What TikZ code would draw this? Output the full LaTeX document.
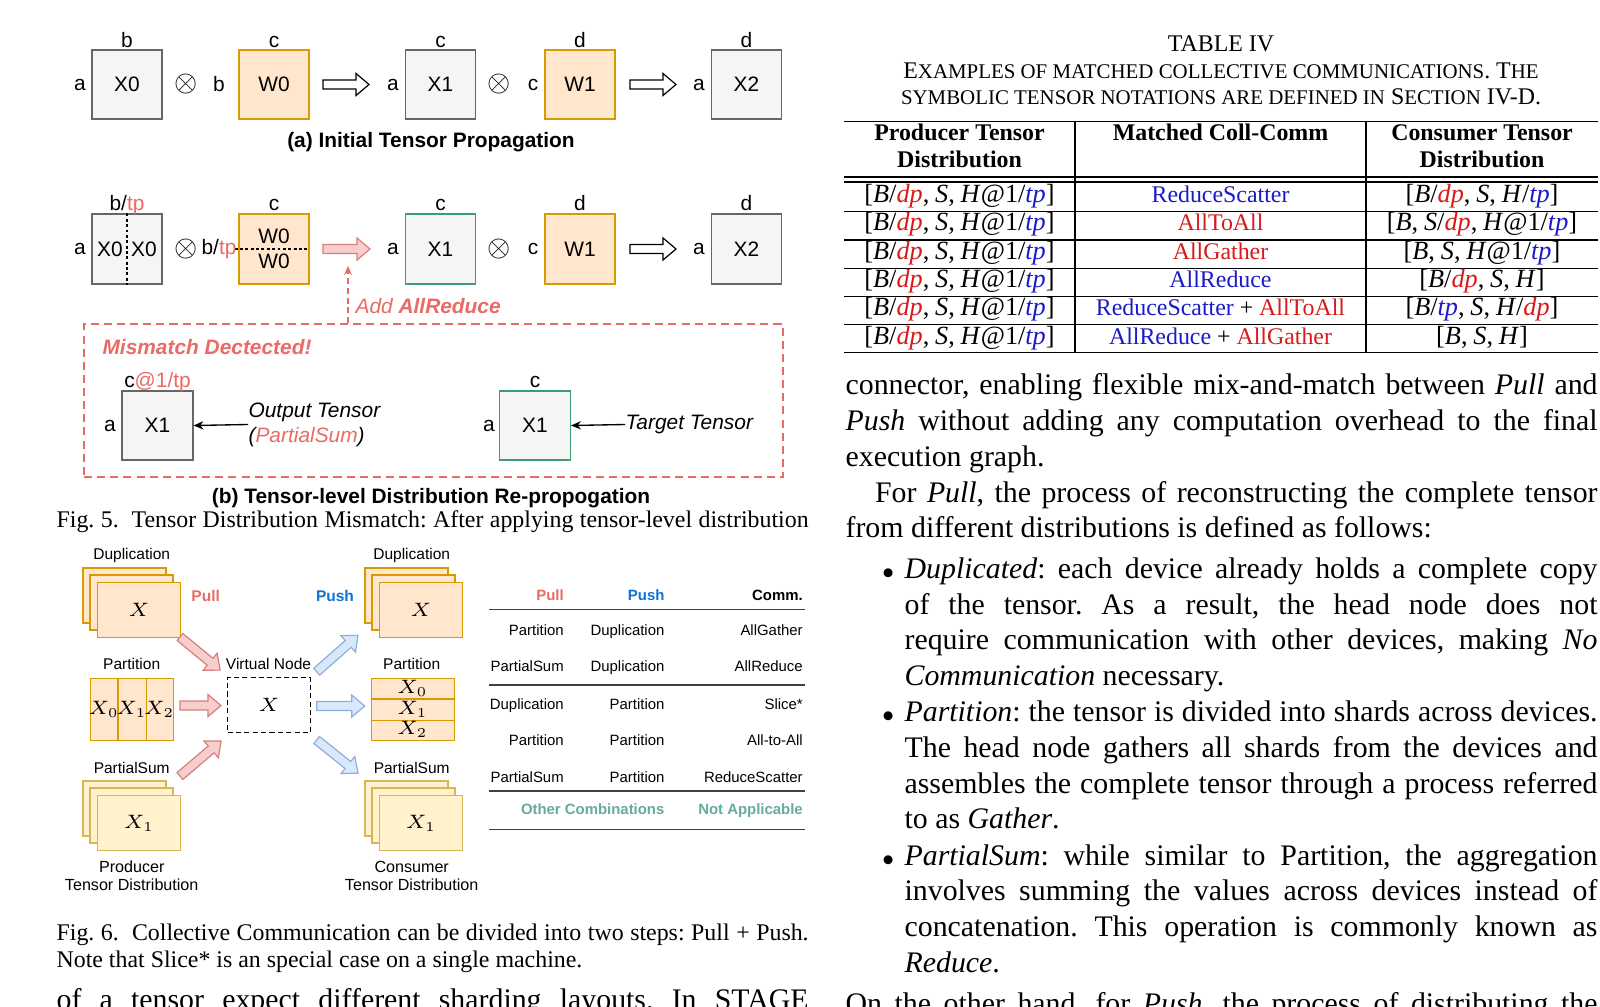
\RequirePackage{fix-cm}
\documentclass[tikz,border=0pt]{standalone}
\usepackage{fontspec}
\setmainfont{Liberation Serif}
\setsansfont{Liberation Sans}
\usetikzlibrary{arrows.meta, positioning, calc}
\definecolor{boxgray}{HTML}{666666}
\definecolor{gfill}{HTML}{F5F5F5}
\definecolor{orstroke}{HTML}{D79B00}
\definecolor{orfill}{HTML}{FFE6CC}
\definecolor{ylstroke}{HTML}{D6B656}
\definecolor{ylfill}{HTML}{FFF2CC}
\definecolor{okgreen}{HTML}{3A9E70}
\definecolor{softred}{HTML}{EA6B66}
\definecolor{pinkfill}{HTML}{F8CECC}
\definecolor{pinkstroke}{HTML}{D4807C}
\definecolor{bluefill}{HTML}{DAE8FC}
\definecolor{bluestroke}{HTML}{8FAEDB}
\definecolor{pushblue}{HTML}{0B72D6}
\definecolor{tealtxt}{HTML}{67AB9F}
\definecolor{tred}{HTML}{D91A1A}
\definecolor{tblue}{HTML}{1A1AC8}
\newcommand{\pxu}{0.3351pt}
\newcommand{\jl}[2]{\hbox to #1{#2}}
\newcommand{\smc}[1]{{\fontsize{7}{9.5}\selectfont #1}}
\newcommand{\dpr}{\textcolor{tred}{\textit{dp}}}
\newcommand{\tpb}{\textcolor{tblue}{\textit{tp}}}
\frenchspacing

\begin{document}
\begin{tikzpicture}[x=\pxu, y=-\pxu, every node/.style={inner sep=0pt},
    lbl/.style={font=\sffamily\fontsize{7}{8.4}\selectfont},
    subcap/.style={anchor=base, font=\sffamily\bfseries\fontsize{7}{8.4}\selectfont},
    tbox/.style={draw=boxgray, fill=gfill, line width=0.4pt, minimum width=70*\pxu, minimum height=69*\pxu, font=\sffamily\fontsize{7}{8.4}\selectfont},
    wbox/.style={tbox, draw=orstroke, fill=orfill},
    gbox/.style={tbox, draw=okgreen},
    otimes/.style={font=\fontsize{10}{10}\selectfont},
    sm/.style={anchor=base, font=\sffamily\fontsize{5.2}{6.2}\selectfont},
    smb/.style={anchor=base, font=\sffamily\bfseries\fontsize{5.2}{6.2}\selectfont},
    tcell/.style={anchor=base east, font=\sffamily\fontsize{5}{6}\selectfont},
    card/.style={draw=orstroke, fill=orfill, line width=0.35pt},
    pcard/.style={draw=ylstroke, fill=ylfill, line width=0.35pt},
    mathx/.style={font=\fontsize{6.5}{7}\selectfont},
    body/.style={anchor=base west, font=\fontsize{10}{12}\selectfont},
    capt/.style={anchor=base west, font=\fontsize{8}{9.5}\selectfont},
    thead/.style={anchor=base, font=\bfseries\fontsize{8}{9.5}\selectfont},
    tval/.style={anchor=base, font=\fontsize{8}{9.5}\selectfont},
    tnot/.style={anchor=base, font=\fontsize{8.8}{9.5}\selectfont},
    trule/.style={line width=0.4pt},
    hollowarw/.style={draw=black, fill=white, line width=0.4pt},
    pullarw/.style={draw=pinkstroke, fill=pinkfill, line width=0.4pt},
    pusharw/.style={draw=bluestroke, fill=bluefill, line width=0.4pt},
    fatarrow/.pic={\path[pic actions] (0,-4.5) -- (#1-13,-4.5) -- (#1-13,-11) -- (#1,0) -- (#1-13,11) -- (#1-13,4.5) -- (0,4.5) -- cycle;},
    thinarrow/.style={-{Stealth[length=3.3pt,width=2.8pt]}, line width=0.45pt}
]
\fill[white] (0,0) rectangle (1600,1007);
\useasboundingbox (0,0) rectangle (1600,1007);

% Fig. 5 (a) initial propagation
\node[tbox] (X0) at (127,84.5) {X0};
\node[wbox] (W0) at (274,84.5) {W0};
\node[tbox] (X1) at (440.5,84.5) {X1};
\node[wbox] (W1) at (580,84.5) {W1};
\node[tbox] (X2) at (746.5,84.5) {X2};
\node[lbl, anchor=base] (tX0) at (127,47.5) {b};
\node[lbl, anchor=base] (tW0) at (274,47.5) {c};
\node[lbl, anchor=base] (tX1) at (440.5,47.5) {c};
\node[lbl, anchor=base] (tW1) at (580,47.5) {d};
\node[lbl, anchor=base] (tX2) at (746.5,47.5) {d};
\node[lbl] (sX0) at (80,84.5) {a};
\node[lbl] (sW0) at (219,84.5) {b};
\node[lbl] (sX1) at (393,84.5) {a};
\node[lbl] (sW1) at (533,84.5) {c};
\node[lbl] (sX2) at (699,84.5) {a};
\node[otimes] (mulA) at (186,84.5) {$\otimes$};
\node[otimes] (mulB) at (499,84.5) {$\otimes$};
\pic[hollowarw] at (323,84.5) {fatarrow=46};
\pic[hollowarw] at (630,84.5) {fatarrow=46};
\node[subcap] (capa) at (431,147.5) {(a) Initial Tensor Propagation};

% Fig. 5 (b) re-propagation
\node[tbox, minimum height=70*\pxu] (X0b) at (127,249) {};
\draw[line width=0.4pt, dash pattern=on 1pt off 0.8pt] (X0b.north) -- (X0b.south);
\node[lbl] (x0l) at (110,249) {X0};
\node[lbl] (x0r) at (144,249) {X0};
\node[wbox, minimum height=70*\pxu] (W0b) at (274,249) {};
\draw[line width=0.4pt, dash pattern=on 1pt off 0.8pt] ([xshift=-1.3pt]W0b.west) -- (W0b.east);
\node[lbl] (w0t) at (274,236) {W0};
\node[lbl] (w0d) at (274,261.5) {W0};
\node[gbox, minimum height=70*\pxu] (X1b) at (440.5,249) {X1};
\node[wbox, minimum height=70*\pxu] (W1b) at (580,249) {W1};
\node[tbox, minimum height=70*\pxu] (X2b) at (746.5,249) {X2};
\node[lbl, anchor=base] (tX0b) at (127,210.5) {b/\textcolor{softred}{tp}};
\node[lbl, anchor=base] (tW0b) at (274,210.5) {c};
\node[lbl, anchor=base] (tX1b) at (440.5,210.5) {c};
\node[lbl, anchor=base] (tW1b) at (580,210.5) {d};
\node[lbl, anchor=base] (tX2b) at (746.5,210.5) {d};
\node[lbl] (sX0b) at (80,249) {a};
\node[lbl] (sW0b) at (219,249) {b/\textcolor{softred}{tp}};
\node[lbl] (sX1b) at (393,249) {a};
\node[lbl] (sW1b) at (533,249) {c};
\node[lbl] (sX2b) at (699,249) {a};
\node[otimes] (mulC) at (186,249) {$\otimes$};
\node[otimes] (mulD) at (499,249) {$\otimes$};
\pic[pullarw] at (323,249) {fatarrow=47};
\pic[hollowarw] at (630,249) {fatarrow=46};
\coordinate (ar) at (348,266);

% mismatch panel
\node[draw=softred, line width=0.5pt, dash pattern=on 2.7pt off 1.7pt, minimum width=699*\pxu, minimum height=153*\pxu] (mm) at (433.5,400.5) {};
\draw[softred, line width=0.5pt, dash pattern=on 2pt off 1.3pt, -{Stealth[length=3pt,width=2.6pt]}] (mm.north -| ar) -- (ar);
\node[anchor=base west, text=softred, font=\sffamily\itshape\fontsize{7}{8.4}\selectfont] (addar) at (355,313.5) {Add \textbf{AllReduce}};
\node[anchor=base west, text=softred, font=\sffamily\bfseries\itshape\fontsize{7}{8.4}\selectfont] (mmt) at (102,354.5) {Mismatch Dectected!};
\node[tbox, minimum width=71*\pxu] (X1p) at (157.5,425.5) {X1};
\node[lbl, anchor=base] (tX1p) at (157.5,388) {c\textcolor{softred}{@1/tp}};
\node[lbl] (sX1p) at (110,425.5) {a};
\node[lbl, anchor=west, align=left, font=\sffamily\itshape\fontsize{7}{8.4}\selectfont] (otxt) at (248,424.5) {Output Tensor\\(\textcolor{softred}{PartialSum})};
\draw[thinarrow] (otxt.west) -- (X1p.east);
\node[gbox, minimum width=71*\pxu] (X1t) at (535,425.5) {X1};
\node[lbl, anchor=base] (tX1t) at (535,388) {c};
\node[lbl] (sX1t) at (489,425.5) {a};
\node[lbl, anchor=west, font=\sffamily\itshape\fontsize{7}{8.4}\selectfont] (ttxt) at (625,424.5) {Target Tensor};
\draw[thinarrow] (ttxt.west) -- (X1t.east);
\node[subcap] (capb) at (431,503.5) {(b) Tensor-level Distribution Re-propogation};
\node[capt] (f5cap) at (56,527) {\jl{252pt}{Fig. 5.\ \ Tensor Distribution Mismatch: After applying tensor-level distribution}};

% Fig. 6 producer side
\node[sm] (lDup) at (131.7,559.5) {Duplication};
\foreach \k in {0,1} \draw[card] (83+7*\k,568+7*\k) rectangle +(83,55);
\node[card, mathx, anchor=north west, minimum width=83*\pxu, minimum height=55*\pxu] (dupL) at (97,582) {$X$};
\node[sm] (lPar) at (131.7,669.5) {Partition};
\node[card, anchor=north west, minimum width=83*\pxu, minimum height=62*\pxu] (parL) at (90,678) {};
\foreach \t in {1,2} \draw[orstroke, line width=0.35pt] ($(parL.north west)!\t/3!(parL.north east)$) -- ($(parL.south west)!\t/3!(parL.south east)$);
\node[mathx] (pl0) at (103.8,709) {$X_0$};
\node[mathx] (pl1) at (131.5,709) {$X_1$};
\node[mathx] (pl2) at (159.2,709) {$X_2$};
\node[sm] (lPs) at (131.7,773.2) {PartialSum};
\foreach \k in {0,1} \draw[pcard] (83+7*\k,781+7*\k) rectangle +(83,55);
\node[pcard, mathx, anchor=north west, minimum width=83*\pxu, minimum height=55*\pxu] (psL) at (97,795) {$X_1$};
\node[anchor=base, font=\sffamily\fontsize{5.4}{6.4}\selectfont] (prod) at (131.7,872.5) {Producer};
\node[anchor=base, font=\sffamily\fontsize{5.4}{6.4}\selectfont] (prod2) at (131.7,890.8) {Tensor Distribution};

% virtual node and arrows
\node[smb, text=softred] (pull) at (205.7,601.2) {Pull};
\node[smb, text=pushblue] (push) at (335,601.2) {Push};
\node[sm] (lVn) at (268.5,669.5) {Virtual Node};
\node[draw, line width=0.45pt, dash pattern=on 1.7pt off 1.1pt, mathx, minimum width=82.6*\pxu, minimum height=55*\pxu] (vn) at (269,705.2) {$X$};
\pic[pullarw, rotate=-39.5] at (180,637) {fatarrow=52};
\pic[pullarw] at (180,705.5) {fatarrow=41};
\pic[pullarw, rotate=40.5] at (180,776) {fatarrow=54};
\pic[pusharw, rotate=41.4] at (316.7,671.7) {fatarrow=55};
\pic[pusharw] at (316.7,706) {fatarrow=48};
\pic[pusharw, rotate=-38.7] at (316.7,740) {fatarrow=53};

% Fig. 6 consumer side
\node[sm] (rDup) at (411.7,559.5) {Duplication};
\foreach \k in {0,1} \draw[card] (365+7*\k,568+7*\k) rectangle +(83,55);
\node[card, mathx, anchor=north west, minimum width=83*\pxu, minimum height=55*\pxu] (dupR) at (379,582) {$X$};
\node[sm] (rPar) at (411.7,669.5) {Partition};
\node[card, anchor=north west, minimum width=83*\pxu, minimum height=62*\pxu] (parR) at (371,678) {};
\foreach \t in {1,2} \draw[orstroke, line width=0.35pt] ($(parR.north west)!\t/3!(parR.south west)$) -- ($(parR.north east)!\t/3!(parR.south east)$);
\node[mathx] (pr0) at (412.5,688.3) {$X_0$};
\node[mathx] (pr1) at (412.5,709) {$X_1$};
\node[mathx] (pr2) at (412.5,729.7) {$X_2$};
\node[sm] (rPs) at (411.7,773.2) {PartialSum};
\foreach \k in {0,1} \draw[pcard] (365+7*\k,781+7*\k) rectangle +(83,55);
\node[pcard, mathx, anchor=north west, minimum width=83*\pxu, minimum height=55*\pxu] (psR) at (379,795) {$X_1$};
\node[anchor=base, font=\sffamily\fontsize{5.4}{6.4}\selectfont] (cons) at (411.7,872.5) {Consumer};
\node[anchor=base, font=\sffamily\fontsize{5.4}{6.4}\selectfont] (cons2) at (411.7,890.8) {Tensor Distribution};

% Fig. 6 table
\node[tcell, font=\sffamily\bfseries\fontsize{5}{6}\selectfont, text=softred] (hPull) at (564.3,600.3) {Pull};
\node[tcell, font=\sffamily\bfseries\fontsize{5}{6}\selectfont, text=pushblue] (hPush) at (665,600.3) {Push};
\node[tcell, font=\sffamily\bfseries\fontsize{5}{6}\selectfont] (hComm) at (803.3,600.3) {Comm.};
\node[tcell] (a1) at (564.3,635.3) {Partition};
\node[tcell] (b1) at (665,635.3) {Duplication};
\node[tcell] (c1) at (803.3,635.3) {AllGather};
\node[tcell] (a2) at (564.3,671.3) {PartialSum};
\node[tcell] (b2) at (665,671.3) {Duplication};
\node[tcell] (c2) at (803.3,671.3) {AllReduce};
\node[tcell] (a3) at (564.3,709.3) {Duplication};
\node[tcell] (b3) at (665,709.3) {Partition};
\node[tcell] (c3) at (803.3,709.3) {Slice*};
\node[tcell] (a4) at (564.3,745.3) {Partition};
\node[tcell] (b4) at (665,745.3) {Partition};
\node[tcell] (c4) at (803.3,745.3) {All-to-All};
\node[tcell] (a5) at (564.3,782) {PartialSum};
\node[tcell] (b5) at (665,782) {Partition};
\node[tcell] (c5) at (803.3,782) {ReduceScatter};
\node[tcell, font=\sffamily\bfseries\fontsize{5}{6}\selectfont, text=tealtxt] (oth) at (665,814.6) {Other Combinations};
\node[tcell, font=\sffamily\bfseries\fontsize{5}{6}\selectfont, text=tealtxt] (na) at (803.3,814.6) {Not Applicable};
\foreach \yy in {609.3,685,791,829.3} \draw[line width=0.4pt, black!75] (489.3,\yy) -- (805,\yy);
\node[capt] (f6a) at (56,940) {\jl{252pt}{Fig. 6.\ \ Collective Communication can be divided into two steps: Pull + Push.}};
\node[capt] (f6b) at (56,967.3) {Note that Slice* is an special case on a single machine.};
\node[body] (lend) at (56,1009) {\jl{252pt}{of a tensor expect different sharding layouts. In STAGE}};

% Table IV
\node[tval] (tcap) at (1221,51.7) {TABLE IV};
\node[tval] (tcap2) at (1221,78.3) {E\smc{XAMPLES OF MATCHED COLLECTIVE COMMUNICATIONS}. T\smc{HE}};
\node[tval] (tcap3) at (1221,105) {\smc{SYMBOLIC TENSOR NOTATIONS ARE DEFINED IN} S\smc{ECTION} IV-D.};
\foreach \yy in {121.7,177,182,211.7,240,268.3,296.6,324.9,352.5} \draw[trule] (844,\yy) -- (1598,\yy);
\draw[trule] (1075,121.7) -- (1075,352.5);
\draw[trule] (1366,121.7) -- (1366,352.5);
\node[thead] (hp1) at (959.5,140.7) {Producer Tensor};
\node[thead] (hp2) at (959.5,167.7) {Distribution};
\node[thead] (hm1) at (1220.5,140.7) {Matched Coll-Comm};
\node[thead] (hc1) at (1482,140.7) {Consumer Tensor};
\node[thead] (hc2) at (1482,167.7) {Distribution};
\foreach \r in {0,...,5} \node[tnot] (p\r) at (959.5,202.7+28.3*\r) {[\textit{B}/\dpr,\:\textit{S},\:\textit{H}@1/\tpb]};
\node[tval] (m0) at (1220.5,202.7) {\textcolor{tblue}{ReduceScatter}};
\node[tval] (m1) at (1220.5,231) {\textcolor{tred}{AllToAll}};
\node[tval] (m2) at (1220.5,259.3) {\textcolor{tred}{AllGather}};
\node[tval] (m3) at (1220.5,287.6) {\textcolor{tblue}{AllReduce}};
\node[tval] (m4) at (1220.5,315.9) {\textcolor{tblue}{ReduceScatter} + \textcolor{tred}{AllToAll}};
\node[tval] (m5) at (1220.5,344.2) {\textcolor{tblue}{AllReduce} + \textcolor{tred}{AllGather}};
\node[tnot] (c0) at (1482,202.7) {[\textit{B}/\dpr,\:\textit{S},\:\textit{H}/\tpb]};
\node[tnot] (c1) at (1482,231) {[\textit{B},\:\textit{S}/\dpr,\:\textit{H}@1/\tpb]};
\node[tnot] (c2) at (1482,259.3) {[\textit{B},\:\textit{S},\:\textit{H}@1/\tpb]};
\node[tnot] (c3) at (1482,287.6) {[\textit{B}/\dpr,\:\textit{S},\:\textit{H}]};
\node[tnot] (c4) at (1482,315.9) {[\textit{B}/\tpb,\:\textit{S},\:\textit{H}/\dpr]};
\node[tnot] (c5) at (1482,344.2) {[\textit{B},\:\textit{S},\:\textit{H}]};

% right column text
\node[body] (r1) at (845,395) {\jl{252pt}{connector, enabling flexible mix-and-match between \textit{Pull} and}};
\node[body] (r2) at (845,430.7) {\jl{252pt}{\textit{Push} without adding any computation overhead to the final}};
\node[body] (r3) at (845,466.4) {execution graph.};
\node[body] (r4) at (874.5,502.1) {\jl{242.1pt}{For \textit{Pull}, the process of reconstructing the complete tensor}};
\node[body] (r5) at (845,537.8) {from different distributions is defined as follows:};
\node[body] (bu1) at (881.5,578.3) {$\scriptstyle\bullet$};
\node[body] (r6) at (904,578.3) {\jl{232.2pt}{\textit{Duplicated}: each device already holds a complete copy}};
\node[body] (r7) at (904,614) {\jl{232.2pt}{of the tensor. As a result, the head node does not}};
\node[body] (r8) at (904,649.7) {\jl{232.2pt}{require communication with other devices, making \textit{No}}};
\node[body] (r9) at (904,685.4) {\textit{Communication} necessary.};
\node[body] (bu2) at (881.5,721.7) {$\scriptstyle\bullet$};
\node[body] (r10) at (904,721.7) {\jl{232.2pt}{\textit{Partition}: the tensor is divided into shards across devices.}};
\node[body] (r11) at (904,757.4) {\jl{232.2pt}{The head node gathers all shards from the devices and}};
\node[body] (r12) at (904,793.1) {\jl{232.2pt}{assembles the complete tensor through a process referred}};
\node[body] (r13) at (904,828.8) {to as \textit{Gather}.};
\node[body] (bu3) at (881.5,865) {$\scriptstyle\bullet$};
\node[body] (r14) at (904,865) {\jl{232.2pt}{\textit{PartialSum}: while similar to Partition, the aggregation}};
\node[body] (r15) at (904,900.7) {\jl{232.2pt}{involves summing the values across devices instead of}};
\node[body] (r16) at (904,936.4) {\jl{232.2pt}{concatenation. This operation is commonly known as}};
\node[body] (r17) at (904,972.1) {\textit{Reduce}.};
\node[body] (r18) at (845,1013) {\jl{252pt}{On the other hand, for \textit{Push}, the process of distributing the}};
\end{tikzpicture}
\end{document}
